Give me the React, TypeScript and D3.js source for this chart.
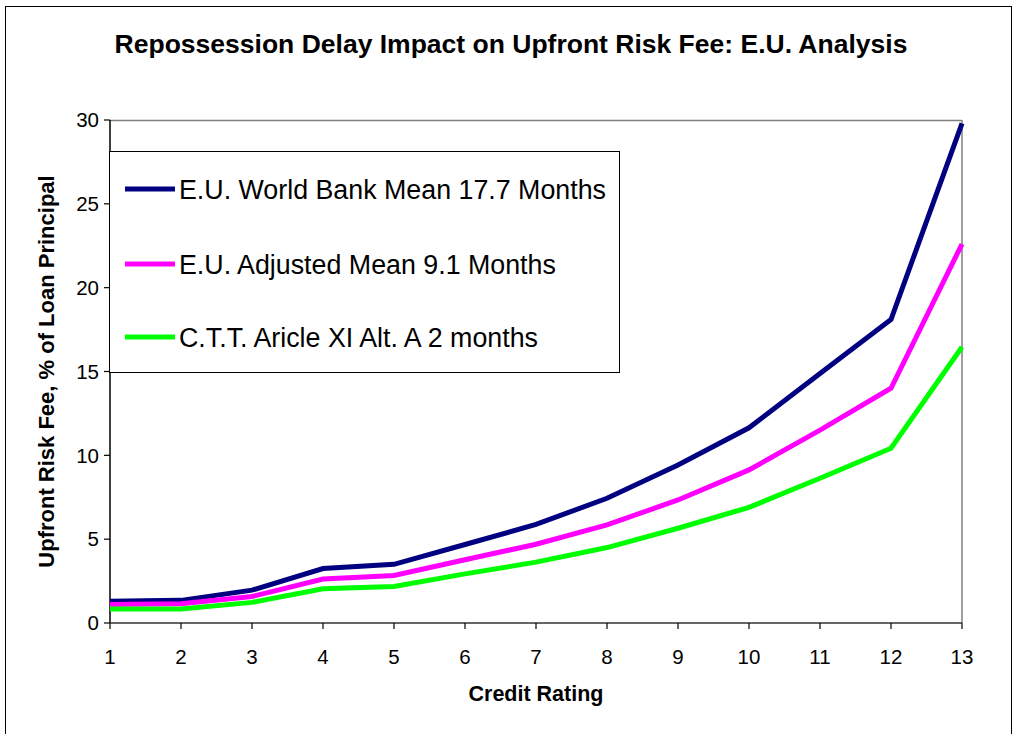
import React from "react";
import * as d3 from "d3";

const ratings = [1, 2, 3, 4, 5, 6, 7, 8, 9, 10, 11, 12, 13];
const worldBank = [1.3, 1.35, 1.96, 3.25, 3.5, 4.68, 5.88, 7.44, 9.42, 11.64, 14.88, 18.1, 29.8];
const adjusted = [1.1, 1.15, 1.58, 2.62, 2.83, 3.77, 4.7, 5.85, 7.34, 9.13, 11.5, 14.0, 22.6];
const ctt = [0.83, 0.83, 1.23, 2.04, 2.18, 2.93, 3.63, 4.5, 5.65, 6.9, 8.63, 10.42, 16.46];
const yTicks = [0, 5, 10, 15, 20, 25, 30];
const seriesNames = [
  "E.U. World Bank Mean 17.7 Months",
  "E.U. Adjusted Mean 9.1 Months",
  "C.T.T. Aricle XI Alt. A 2 months",
];
const seriesColors = ["#000080", "#FF00FF", "#00FF00"];
const title = "Repossession Delay Impact on Upfront Risk Fee: E.U. Analysis";
const xTitle = "Credit Rating";
const yTitle = "Upfront Risk Fee, % of Loan Principal";

export default function App() {
  const W = 1019, H = 734;
  const left = 110, right = 962, top = 120, bottom = 623;
  const x = d3.scaleLinear().domain([1, 13]).range([left, right]);
  const y = d3.scaleLinear().domain([0, 30]).range([bottom, top]);
  const line = d3
    .line<number>()
    .x((_, i) => x(ratings[i]))
    .y((d) => y(d));
  const series = [worldBank, adjusted, ctt];
  const font = "'Liberation Sans', Arial, sans-serif";

  const legX = 109, legY = 151, legW = 510, legH = 221;
  const rowYs = [189, 264, 337];

  return (
    <svg
      width={W}
      height={H}
      style={{ position: "absolute", left: 0, top: 0, background: "#fff" }}
      fontFamily={font}
    >
      <rect x={0} y={0} width={W} height={H} fill="#fff" />
      <rect x={5.5} y={6.5} width={1006} height={740} fill="none" stroke="#000" strokeWidth={1} />
      <text x={511} y={53} textAnchor="middle" fontWeight="bold" fontSize={26.5}>
        {title}
      </text>
      {/* plot area frame */}
      <line x1={left} x2={right} y1={top + 0.5} y2={top + 0.5} stroke="#808080" strokeWidth={1.5} />
      <line x1={right} x2={right} y1={top} y2={bottom} stroke="#808080" strokeWidth={1.5} />
      {/* y axis */}
      <line x1={left} x2={left} y1={top} y2={bottom} stroke="#000" strokeWidth={1.5} />
      {yTicks.map((t) => (
        <g key={"y" + t}>
          <line x1={left - 6} x2={left} y1={y(t)} y2={y(t)} stroke="#000" strokeWidth={1.2} />
          <text x={left - 11} y={y(t)} dy="0.35em" textAnchor="end" fontSize={20.5}>
            {t}
          </text>
        </g>
      ))}
      {/* x axis */}
      <line x1={left} x2={right} y1={bottom} y2={bottom} stroke="#333" strokeWidth={1.5} />
      {ratings.map((r) => (
        <g key={"x" + r}>
          <line x1={x(r)} x2={x(r)} y1={bottom} y2={bottom + 6} stroke="#000" strokeWidth={1.2} />
          <text x={x(r)} y={bottom + 41} textAnchor="middle" fontSize={20.5}>
            {r}
          </text>
        </g>
      ))}
      {series.map((s, i) => (
        <path
          key={"s" + i}
          d={line(s) || ""}
          fill="none"
          stroke={seriesColors[i]}
          strokeWidth={5}
          strokeLinejoin="miter"
        />
      ))}
      {/* legend */}
      <rect x={legX + 0.5} y={legY + 0.5} width={legW} height={legH} fill="#fff" stroke="#000" strokeWidth={1} />
      {seriesNames.map((n, i) => (
        <g key={"l" + i}>
          <line x1={125} x2={175} y1={rowYs[i]} y2={rowYs[i]} stroke={seriesColors[i]} strokeWidth={5} />
          <text x={179} y={rowYs[i]} dy="0.36em" fontSize={26.8}>
            {n}
          </text>
        </g>
      ))}
      <text x={536} y={701} textAnchor="middle" fontWeight="bold" fontSize={21.5}>
        {xTitle}
      </text>
      <text
        transform={`translate(54, ${(top + bottom) / 2}) rotate(-90)`}
        textAnchor="middle"
        fontWeight="bold"
        fontSize={22}
      >
        {yTitle}
      </text>
    </svg>
  );
}
